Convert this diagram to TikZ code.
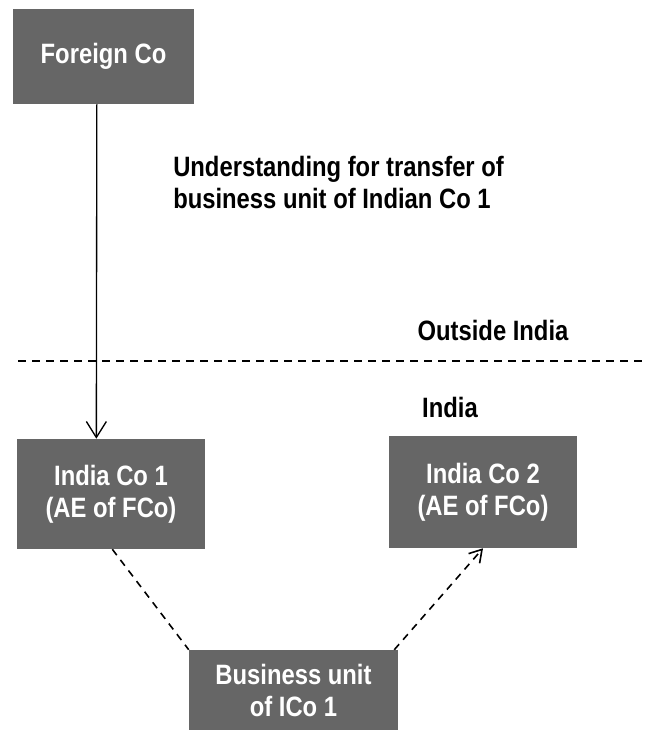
\documentclass[tikz,border=0pt]{standalone}
\usepackage{fontspec}
\setmainfont{Liberation Sans}[FakeStretch=0.85]
\usetikzlibrary{arrows.meta}

\begin{document}
\begin{tikzpicture}[
    x=0.75pt, y=-0.75pt,
    entity/.style={rectangle, fill=black!60, text=white, align=center, inner sep=0pt, font=\fontsize{21}{24}\selectfont\bfseries},
    caption/.style={inner sep=0pt, align=left, font=\fontsize{21}{24}\selectfont\bfseries},
    link/.style={line width=1pt},
    dashlink/.style={line width=1.2pt, dash pattern=on 5.5pt off 4.5pt}
]
\useasboundingbox (0,0) rectangle (647,732);

% Companies
\node[entity, minimum width=135.75pt, minimum height=71.25pt] (fco) at (103.5,56.5) {Foreign Co};
\node[entity, minimum width=141pt, minimum height=82.5pt] (ico1) at (111,494) {India Co 1\\(AE of FCo)};
\node[entity, minimum width=141pt, minimum height=84pt] (ico2) at (483,492) {India Co 2\\(AE of FCo)};
\node[entity, minimum width=156.75pt, minimum height=60pt] (unit) at (293.5,690) {Business unit\\of ICo 1};

% Labels
\node[caption, anchor=west] (deal) at (173,182) {Understanding for transfer of\\business unit of Indian Co 1};
\node[caption, anchor=base] (outside) at (493,340) {Outside India};
\node[caption, anchor=base] (india) at (450,417) {India};

% Border
\coordinate (bleft) at (18,361);
\coordinate (bright) at (647,361);
\draw[dashlink, dash pattern=on 6pt off 4.5pt] (bleft) -- (bright);

% Connectors
\draw[link, -{Straight Barb[length=12pt, width=15pt]}] ([xshift=-5pt]fco.south) -- ([xshift=-11pt]ico1.north);
\draw[dashlink] ([xshift=1pt]ico1.south) -- (unit.north west);
\draw[dashlink, -{Straight Barb[length=9pt, width=11pt]}] ([xshift=-3pt]unit.north east) -- (ico2.south);

\end{tikzpicture}
\end{document}
